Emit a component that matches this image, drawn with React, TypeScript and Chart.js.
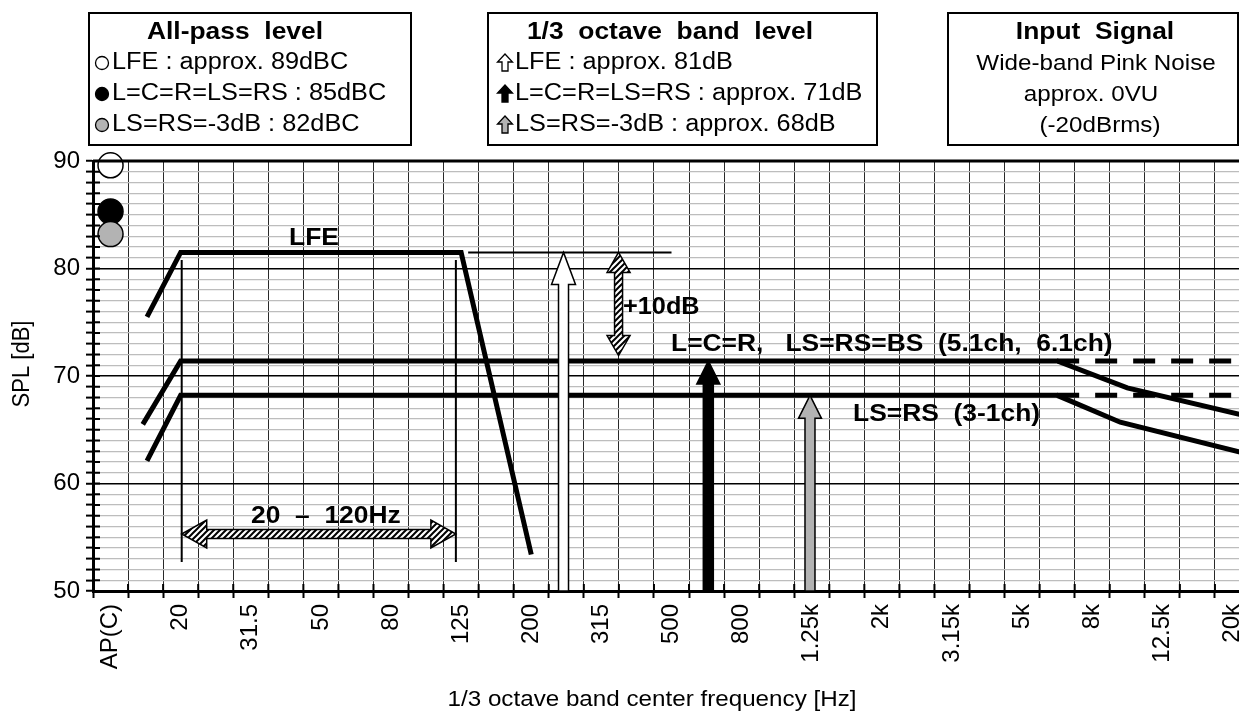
import React, { useEffect, useRef } from 'react';
import { Chart, registerables } from 'chart.js';

Chart.register(...registerables);

const FONT = "'Liberation Sans', Arial, Helvetica, sans-serif";
const SX = 1.1;

// 1/3 octave band categories (index = x position)
const bands = ['AP(C)', '16', '20', '25', '31.5', '40', '50', '63', '80', '100', '125', '160', '200', '250', '315', '400', '500', '630', '800', '1k', '1.25k', '1.6k', '2k', '2.5k', '3.15k', '4k', '5k', '6.3k', '8k', '10k', '12.5k', '16k', '20k'];
const shownBands = ['AP(C)', '20', '31.5', '50', '80', '125', '200', '315', '500', '800', '1.25k', '2k', '3.15k', '5k', '8k', '12.5k', '20k'];
const yLabels = [50, 60, 70, 80, 90];

// LFE response
const lfeX = [1.04, 2, 10, 12];
const lfeY = [75.5, 81.5, 81.5, 53.4];
// L=C=R, LS=RS=BS response
const mainX = [0.92, 2, 27, 29, 32.5];
const mainY = [65.5, 71.4, 71.4, 68.9, 66.2];
// LS=RS (3-1ch) response
const surX = [1.04, 2, 27, 28.8, 32.5];
const surY = [62.1, 68.2, 68.2, 65.7, 62.7];
// flat (dashed) continuations
const flatX = [27, 32.5];
const mainFlatY = [71.4, 71.4];
const surFlatY = [68.2, 68.2];
// All-pass levels at AP(C)
const apLevels = [89.6, 85.3, 83.2];
const apColors = ['#ffffff', '#000000', '#b3b3b3'];
// 1/3 octave band level arrows
const bandArrowX = [12.92, 17.05, 19.95];
const bandArrowY = [81.5, 71.4, 68.2];
const bandArrowFill = ['#ffffff', '#000000', '#b3b3b3'];
// 20 - 120 Hz range markers
const rangeX = [2.03, 9.85];
const rangeLineY = [52.7, 80.8];
const rangeArrowY = 55.3;
// reference line at LFE level
const refLineX = [10.2, 16];
const refLineY = 81.5;
// +10 dB arrow
const tenDbX = 14.49;
const tenDbY = [81.5, 71.9];

const zip = (xs: number[], ys: number[]) => xs.map((x, i) => ({ x, y: ys[i] }));

function txt(ctx: CanvasRenderingContext2D, s: string, x: number, y: number, size = 22, bold = false, align: CanvasTextAlign = 'left') {
  ctx.save();
  ctx.font = `${bold ? 'bold ' : ''}${size}px ${FONT}`;
  ctx.textBaseline = 'middle';
  ctx.textAlign = align;
  ctx.fillStyle = '#000';
  ctx.translate(x, y);
  ctx.scale(SX, 1);
  ctx.fillText(s, 0, 0);
  ctx.restore();
}

function poly(ctx: CanvasRenderingContext2D, pts: number[][], fill: any, lw = 1.5) {
  ctx.beginPath();
  pts.forEach((p, i) => (i === 0 ? ctx.moveTo(p[0], p[1]) : ctx.lineTo(p[0], p[1])));
  ctx.closePath();
  ctx.fillStyle = fill;
  ctx.fill();
  ctx.lineWidth = lw;
  ctx.strokeStyle = '#000';
  ctx.lineJoin = 'miter';
  ctx.stroke();
}

function upArrow(ctx: CanvasRenderingContext2D, x: number, yTip: number, yBase: number, sw: number, hw: number, hl: number, fill: any, lw = 1.5) {
  const s = sw / 2, h = hw / 2;
  poly(ctx, [[x, yTip], [x + h, yTip + hl], [x + s, yTip + hl], [x + s, yBase], [x - s, yBase], [x - s, yTip + hl], [x - h, yTip + hl]], fill, lw);
}

function vDouble(ctx: CanvasRenderingContext2D, x: number, y1: number, y2: number, sw: number, hw: number, hl: number, fill: any) {
  const s = sw / 2, h = hw / 2;
  poly(ctx, [[x, y1], [x + h, y1 + hl], [x + s, y1 + hl], [x + s, y2 - hl], [x + h, y2 - hl], [x, y2], [x - h, y2 - hl], [x - s, y2 - hl], [x - s, y1 + hl], [x - h, y1 + hl]], fill);
}

function hDouble(ctx: CanvasRenderingContext2D, y: number, x1: number, x2: number, sw: number, hw: number, hl: number, fill: any) {
  const s = sw / 2, h = hw / 2;
  poly(ctx, [[x1, y], [x1 + hl, y - h], [x1 + hl, y - s], [x2 - hl, y - s], [x2 - hl, y - h], [x2, y], [x2 - hl, y + h], [x2 - hl, y + s], [x1 + hl, y + s], [x1 + hl, y + h]], fill);
}

function hatch(ctx: CanvasRenderingContext2D) {
  const c = document.createElement('canvas');
  c.width = 6; c.height = 6;
  const p = c.getContext('2d')!;
  p.fillStyle = '#fff';
  p.fillRect(0, 0, 6, 6);
  p.strokeStyle = '#000';
  p.lineWidth = 2;
  p.beginPath();
  p.moveTo(0, 6); p.lineTo(6, 0);
  p.moveTo(-1, 1); p.lineTo(1, -1);
  p.moveTo(5, 7); p.lineTo(7, 5);
  p.stroke();
  return ctx.createPattern(c, 'repeat');
}

const overlay = {
  id: 'overlay',
  afterDatasetsDraw(chart: any) {
    const ctx: CanvasRenderingContext2D = chart.ctx;
    const xs = chart.scales.x, ys = chart.scales.y;
    const X = (v: number) => xs.getPixelForValue(v);
    const Y = (v: number) => ys.getPixelForValue(v);
    const base = Y(50);
    ctx.save();
    // band level arrows
    bandArrowX.forEach((bx, i) => {
      const hw = i === 0 ? 24 : 23;
      const hl = i === 0 ? 32 : 23;
      upArrow(ctx, X(bx), Y(bandArrowY[i]), base, 10, hw, hl, bandArrowFill[i]);
    });
    const pat = hatch(ctx);
    // +10 dB double arrow
    vDouble(ctx, X(tenDbX), Y(tenDbY[0]), Y(tenDbY[1]), 8, 23, 20, pat);
    // 20-120 Hz double arrow
    hDouble(ctx, Y(rangeArrowY), X(rangeX[0]), X(rangeX[1]), 9, 28, 25, pat);
    // annotation texts
    txt(ctx, 'LFE', 289, 238, 24, true);
    txt(ctx, '+10dB', 623, 308, 23, true);
    txt(ctx, 'L=C=R,   LS=RS=BS  (5.1ch,  6.1ch)', 671, 344, 24, true);
    txt(ctx, 'LS=RS  (3-1ch)', 853, 414, 24, true);
    txt(ctx, '20  \u2013  120Hz', 251, 516, 24, true);
    ctx.restore();
  },
  afterDraw(chart: any) {
    const ctx: CanvasRenderingContext2D = chart.ctx;
    const ca = chart.chartArea;
    const xs = chart.scales.x, ys = chart.scales.y;
    ctx.save();
    // inner tick marks
    ctx.strokeStyle = '#000';
    ctx.lineWidth = 2;
    ctx.beginPath();
    for (let v = 50; v <= 90; v++) {
      const y = ys.getPixelForValue(v);
      ctx.moveTo(ca.left, y); ctx.lineTo(ca.left + 7, y);
    }
    for (let i = 0; i <= bands.length; i++) {
      const x = xs.getPixelForValue(i - 0.5);
      ctx.moveTo(x, ca.bottom); ctx.lineTo(x, ca.bottom - 7);
    }
    ctx.stroke();
    // top border
    ctx.lineWidth = 3;
    ctx.beginPath();
    ctx.moveTo(ca.left, ca.top); ctx.lineTo(ca.right, ca.top);
    ctx.stroke();

    // axis titles
    txt(ctx, '1/3 octave band center frequency [Hz]', 652, 700, 22, false, 'center');
    ctx.save();
    ctx.translate(22, 364);
    ctx.rotate(-Math.PI / 2);
    ctx.scale(1, SX);
    ctx.font = `22px ${FONT}`;
    ctx.textAlign = 'center';
    ctx.textBaseline = 'middle';
    ctx.fillStyle = '#000';
    ctx.fillText('SPL [dB]', 0, 0);
    ctx.restore();

    // legend boxes
    ctx.lineWidth = 2;
    ctx.strokeStyle = '#000';
    const box = (x1: number, y1: number, x2: number, y2: number) => {
      ctx.fillStyle = '#fff';
      ctx.fillRect(x1, y1, x2 - x1, y2 - y1);
      ctx.strokeRect(x1, y1, x2 - x1, y2 - y1);
    };
    box(89, 13, 411, 145);
    box(488, 13, 877, 145);
    box(948, 13, 1238, 145);

    const titleY = 32;
    const rows = [63, 94, 125];
    // box 1: all-pass
    txt(ctx, 'All-pass  level', 235, titleY, 24, true, 'center');
    const labels1 = ['LFE : approx. 89dBC', 'L=C=R=LS=RS : 85dBC', 'LS=RS=-3dB : 82dBC'];
    rows.forEach((ry, i) => {
      ctx.beginPath();
      ctx.arc(102, ry, 6.5, 0, Math.PI * 2);
      ctx.fillStyle = apColors[i];
      ctx.fill();
      ctx.lineWidth = 1.3;
      ctx.strokeStyle = '#000';
      ctx.stroke();
      txt(ctx, labels1[i], 112, ry, 23);
    });
    // box 2: band level
    txt(ctx, '1/3  octave  band  level', 670, titleY, 24, true, 'center');
    const labels2 = ['LFE : approx. 81dB', 'L=C=R=LS=RS : approx. 71dB', 'LS=RS=-3dB : approx. 68dB'];
    rows.forEach((ry, i) => {
      upArrow(ctx, 505, ry - 9, ry + 8, 6, 15, 8, bandArrowFill[i], 1.3);
      txt(ctx, labels2[i], 515, ry, 23);
    });
    // box 3: input signal
    txt(ctx, 'Input  Signal', 1095, titleY, 24, true, 'center');
    txt(ctx, 'Wide-band Pink Noise', 1096, 64, 22, false, 'center');
    txt(ctx, 'approx. 0VU', 1091, 95, 22, false, 'center');
    txt(ctx, '(-20dBrms)', 1100, 126, 22, false, 'center');
    ctx.restore();
  },
};

export default function App() {
  const ref = useRef<HTMLCanvasElement | null>(null);

  useEffect(() => {
    if (!ref.current) return;
    const line = (data: any[], width: number, dash: number[] = []) => ({
      type: 'line',
      data,
      borderColor: '#000',
      backgroundColor: '#000',
      borderWidth: width,
      borderDash: dash,
      pointRadius: 0,
      pointHoverRadius: 0,
      tension: 0,
      fill: false,
      borderCapStyle: 'butt',
      borderJoinStyle: 'miter',
    });
    const chart = new Chart(ref.current, {
      type: 'line',
      data: {
        datasets: [
          line(zip([rangeX[0], rangeX[0]], rangeLineY), 2),
          line(zip([rangeX[1], rangeX[1]], rangeLineY), 2),
          line(zip(refLineX, [refLineY, refLineY]), 2),
          line(zip(lfeX, lfeY), 5),
          line(zip(mainX, mainY), 5),
          line(zip(surX, surY), 5),
          line(zip(flatX, mainFlatY), 5, [22, 16]),
          line(zip(flatX, surFlatY), 5, [22, 16]),
          {
            type: 'scatter',
            data: apLevels.map((y) => ({ x: 0, y })),
            pointRadius: 12.5,
            pointHoverRadius: 12.5,
            pointBackgroundColor: apColors,
            pointBorderColor: '#000',
            pointBorderWidth: 1.5,
            showLine: false,
            clip: false,
          },
        ] as any,
      },
      options: {
        responsive: false,
        animation: false,
        maintainAspectRatio: false,
        events: [],
        layout: { padding: { top: 161, left: 0, right: 0, bottom: 0 } },
        plugins: { legend: { display: false }, tooltip: { enabled: false } },
        scales: {
          x: {
            type: 'linear',
            min: -0.5,
            max: 32.5,
            afterBuildTicks: (s: any) => {
              const t = [];
              for (let i = -1; i <= 65; i++) t.push({ value: i * 0.5 });
              s.ticks = t;
            },
            afterFit: (s: any) => {
              s.height = 122;
              s.paddingLeft = 0;
              s.paddingRight = 0;
            },
            ticks: {
              autoSkip: false,
              minRotation: 90,
              maxRotation: 90,
              padding: 6,
              color: '#000',
              font: { size: 24, family: FONT },
              callback: (v: any) => {
                const n = Number(v);
                if (!Number.isInteger(n)) return '';
                const lab = bands[n];
                return shownBands.includes(lab) ? lab : '';
              },
            },
            grid: {
              color: (c: any) => (Number.isInteger(c.tick?.value) ? 'rgba(0,0,0,0)' : '#2a2a2a'),
              tickColor: (c: any) => (Number.isInteger(c.tick?.value) ? 'rgba(0,0,0,0)' : '#000'),
              lineWidth: 1,
              tickWidth: 2,
              tickLength: 7,
            },
            border: { color: '#000', width: 3 },
          },
          y: {
            type: 'linear',
            min: 50,
            max: 90,
            afterBuildTicks: (s: any) => {
              const t = [];
              for (let v = 50; v <= 90; v++) t.push({ value: v });
              s.ticks = t;
            },
            afterFit: (s: any) => {
              s.width = 93;
              s.paddingTop = 0;
              s.paddingBottom = 0;
            },
            ticks: {
              autoSkip: false,
              padding: 6,
              color: '#000',
              font: { size: 24, family: FONT },
              callback: (v: any) => (yLabels.includes(Number(v)) ? String(v) : ''),
            },
            grid: {
              color: (c: any) => {
                const v = c.tick?.value;
                return v % 10 === 0 ? '#000' : '#bdbdbd';
              },
              lineWidth: (c: any) => (c.tick?.value % 10 === 0 ? 1.5 : 1.2),
              tickColor: '#000',
              tickWidth: 2,
              tickLength: 7,
            },
            border: { color: '#000', width: 3 },
          },
        },
      } as any,
      plugins: [overlay],
    });
    return () => chart.destroy();
  }, []);

  return (
    <div style={{ position: 'fixed', left: 0, top: 0, width: 1239, height: 713, overflow: 'hidden', background: '#fff' }}>
      <canvas ref={ref} width={1264} height={713} style={{ display: 'block' }} />
    </div>
  );
}
